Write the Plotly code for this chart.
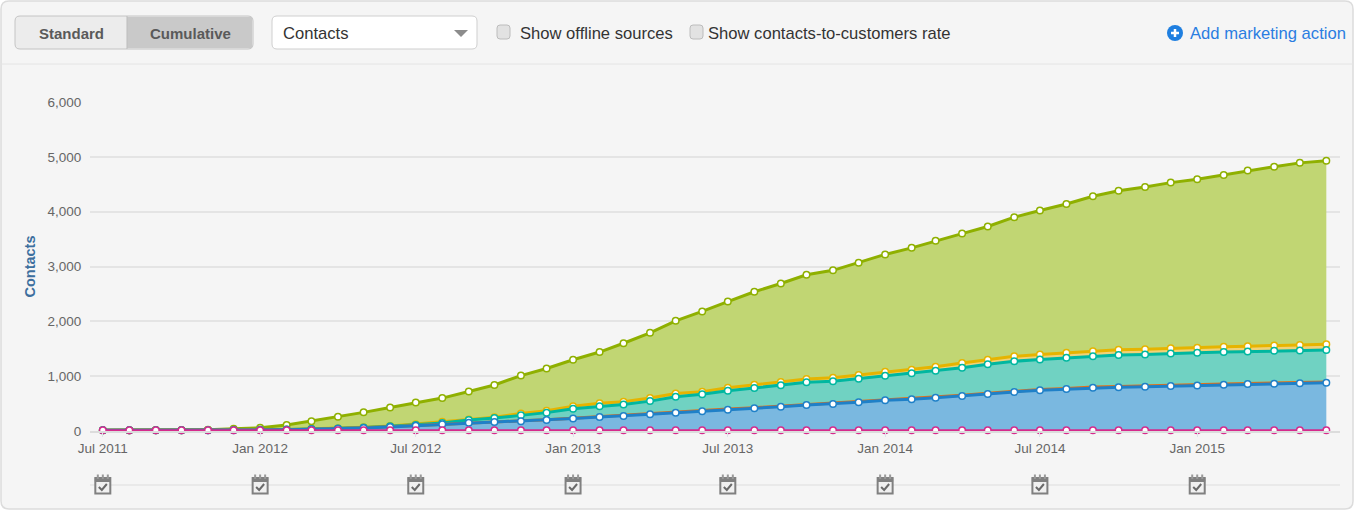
import pandas as pd
import plotly.graph_objects as go

WIDTH, HEIGHT = 1357, 511
LEFT, RIGHT, TOP, BOTTOM = 90, 1340, 102, 431

months = pd.date_range("2011-07-01", "2015-06-01", freq="MS").strftime("%Y-%m-%d").tolist()
action_dates = ["2011-07-01", "2012-01-01", "2012-07-01", "2013-01-01",
                "2013-07-01", "2014-01-01", "2014-07-01", "2015-01-01"]

# cumulative height of every band, bottom to top
pink = [15] * 48
blue = [12, 12, 12, 12, 13, 15, 18, 22, 30, 40, 55, 75,
        95, 125, 150, 165, 180, 200, 230, 255, 275, 305, 335, 359,
        389, 414, 443, 474, 493, 524, 560, 578, 608, 639, 675, 712,
        745, 765, 790, 800, 808, 820, 832, 845, 855, 862, 870, 880]
orange = [13, 13, 13, 13, 14, 16, 19, 24, 32, 42, 58, 78,
          100, 130, 155, 170, 186, 206, 236, 262, 283, 314, 345, 371,
          401, 426, 455, 486, 505, 536, 572, 590, 620, 651, 687, 724,
          757, 777, 802, 812, 820, 832, 844, 857, 867, 874, 882, 892]
teal = [14, 14, 14, 14, 15, 17, 21, 27, 36, 47, 64, 85,
        110, 145, 200, 235, 285, 335, 405, 450, 485, 545, 625, 669,
        735, 785, 834, 888, 907, 954, 1009, 1053, 1100, 1155, 1217, 1272,
        1305, 1335, 1365, 1385, 1395, 1415, 1425, 1440, 1450, 1462, 1470, 1475]
yellow = [15, 15, 15, 15, 16, 18, 22, 29, 39, 50, 68, 92,
          125, 170, 210, 250, 320, 370, 450, 505, 535, 600, 685, 717,
          790, 845, 894, 949, 973, 1022, 1082, 1119, 1173, 1241, 1301, 1363,
          1395, 1425, 1455, 1480, 1492, 1510, 1517, 1535, 1547, 1560, 1570, 1580]
green = [15, 15, 17, 18, 25, 40, 60, 110, 180, 260, 340, 430,
         520, 600, 720, 840, 1010, 1140, 1300, 1440, 1600, 1790, 2010, 2180,
         2360, 2540, 2690, 2850, 2930, 3070, 3220, 3340, 3470, 3600, 3730, 3900,
         4020, 4140, 4280, 4380, 4450, 4530, 4590, 4670, 4750, 4820, 4890, 4930]

y_title = "Contacts"
controls = ["Standard", "Cumulative", "Contacts", "Show offline sources",
            "Show contacts-to-customers rate", "Add marketing action"]

GRID = "#e4e4e4"
PANEL = "#f5f5f5"


def px(x):
    return (x - LEFT) / (RIGHT - LEFT)


def py(y):
    return (BOTTOM - y) / (BOTTOM - TOP)


def box(x0, y0, x1, y1, fill=None, line=None, width=1, kind="rect", layer="above"):
    return dict(type=kind, xref="paper", yref="paper", x0=px(x0), x1=px(x1), y0=py(y0), y1=py(y1),
                fillcolor=fill, line=dict(color=line, width=width if line else 0), layer=layer)


def rounded(x0, y0, x1, y1, r, fill=None, line=None, width=1, layer="above"):
    # rounded rectangle, plotly has no corner radius on rect shapes
    pts = [(x0 + r, y0), (x1 - r, y0), (x1, y0 + r), (x1, y1 - r), (x1 - r, y1), (x0 + r, y1), (x0, y1 - r), (x0, y0 + r)]
    p = [(px(a), py(b)) for a, b in pts]
    path = (f"M{p[0][0]},{p[0][1]} L{p[1][0]},{p[1][1]} Q{px(x1)},{py(y0)} {p[2][0]},{p[2][1]} "
            f"L{p[3][0]},{p[3][1]} Q{px(x1)},{py(y1)} {p[4][0]},{p[4][1]} "
            f"L{p[5][0]},{p[5][1]} Q{px(x0)},{py(y1)} {p[6][0]},{p[6][1]} "
            f"L{p[7][0]},{p[7][1]} Q{px(x0)},{py(y0)} {p[0][0]},{p[0][1]} Z")
    return dict(type="path", xref="paper", yref="paper", path=path, fillcolor=fill,
                line=dict(color=line, width=width if line else 0), layer=layer)


def label(x, y, text, size=16.6, color="#333333", anchor="left", bold=False):
    return dict(xref="paper", yref="paper", x=px(x), y=py(y), text=f"<b>{text}</b>" if bold else text,
                showarrow=False, xanchor=anchor, yanchor="middle",
                font=dict(size=size, color=color), borderpad=0, borderwidth=0)


def icon(date):
    # calendar glyph, sized in pixels and anchored to the date on the x axis
    shapes = []
    base = dict(xref="x", yref="paper", xsizemode="pixel", ysizemode="pixel", xanchor=date, yanchor=py(485))
    shapes.append(dict(type="rect", x0=-7.5, x1=7.5, y0=-8.5, y1=7, fillcolor="#f0f0f0",
                       line=dict(color="#808080", width=2), **base))
    shapes.append(dict(type="rect", x0=-7.5, x1=7.5, y0=3.5, y1=7, fillcolor="#808080",
                       line=dict(color="#808080", width=1), **base))
    for dx in (-5, 0, 5):
        shapes.append(dict(type="line", x0=dx, x1=dx, y0=6, y1=10.5,
                           line=dict(color="#999999", width=2), **base))
    shapes.append(dict(type="path", path="M-4,-2 L-1,-5 L4,1", fillcolor="rgba(0,0,0,0)",
                       line=dict(color="#6a6a6a", width=2), **base))
    return shapes


fig = go.Figure()

# filled bands first, lines go over them afterwards
bands = [(blue, "tozeroy", "rgba(122,184,224,1)"),
         (orange, "tonexty", "rgba(214,150,90,1)"),
         (teal, "tonexty", "rgba(112,210,194,1)"),
         (yellow, "tonexty", "rgba(240,210,120,1)"),
         (green, "tonexty", "rgba(193,214,115,1)")]
for values, fill, color in bands:
    fig.add_trace(go.Scatter(x=months, y=values, mode="lines", fill=fill, fillcolor=color,
                             line=dict(width=0), hoverinfo="skip", showlegend=False))

lines = [(green, "#8fb000", 3, True), (yellow, "#e6b400", 3, True), (teal, "#00b7a0", 3, True),
         (orange, "#e0701a", 3, False), (blue, "#1f80c8", 3, True), (pink, "#d62a8c", 2, True)]
for values, color, width, dots in lines:
    fig.add_trace(go.Scatter(x=months, y=values, mode="lines+markers" if dots else "lines",
                             line=dict(color=color, width=width),
                             marker=dict(size=6.5, color="white", line=dict(color=color, width=1.5)),
                             cliponaxis=False, showlegend=False))

shapes = [
    rounded(1, 1, 1353, 509, 8, fill=PANEL, line="#dcdcdc", width=1.5, layer="below"),
    box(1, 64, 1353, 64, line="#e4e4e4", width=1, kind="line", layer="below"),
    box(LEFT, 485, RIGHT, 485, line=GRID, width=1.5, kind="line", layer="below"),
    rounded(15, 16, 253, 49, 5, fill="#ececec", line="#c4c4c4"),
    box(127, 17, 252, 48, fill="#c9c9c9"),
    box(127, 16, 127, 49, line="#bdbdbd", kind="line"),
    rounded(272, 16, 477, 49, 5, fill="#ffffff", line="#cfcfcf"),
    dict(type="path", xref="paper", yref="paper", fillcolor="#8c8c8c", line=dict(width=0),
         path=f"M{px(454)},{py(30)} L{px(468)},{py(30)} L{px(461)},{py(37)} Z"),
    rounded(497, 25, 510, 39, 3, fill="#e2e2e2", line="#bcbcbc"),
    rounded(690, 25, 703, 39, 3, fill="#e2e2e2", line="#bcbcbc"),
    box(1167, 25, 1183, 41, fill="#1f7fe0", kind="circle"),
    box(1171, 33, 1179, 33, line="#ffffff", width=2.5, kind="line"),
    box(1175, 29, 1175, 37, line="#ffffff", width=2.5, kind="line"),
]
for d in action_dates:
    shapes += icon(d)

annotations = [
    label(71, 33, controls[0], size=15, color="#5a5a5a", anchor="center", bold=True),
    label(190, 33, controls[1], size=15, color="#5a5a5a", anchor="center", bold=True),
    label(283, 33, controls[2]),
    label(520, 33, controls[3]),
    label(708, 33, controls[4]),
    label(1190, 33, controls[5], color="#2a7de1"),
]

fig.update_layout(
    width=WIDTH,
    height=HEIGHT,
    margin=dict(l=LEFT, r=WIDTH - RIGHT, t=TOP, b=HEIGHT - BOTTOM, pad=0),
    paper_bgcolor="white",
    plot_bgcolor="rgba(0,0,0,0)",
    font=dict(family="Liberation Sans, Arial, sans-serif", color="#666666", size=13.5),
    shapes=shapes,
    annotations=annotations,
    showlegend=False,
)
fig.update_xaxes(
    type="date",
    range=["2011-06-16", "2015-06-17"],
    tick0="2011-07-01",
    dtick="M6",
    tickformat="%b %Y",
    ticks="outside",
    ticklen=4,
    tickcolor="#dfe3ea",
    showgrid=False,
    zeroline=False,
    showline=True,
    linecolor="#dcdcdc",
    linewidth=1.5,
    tickfont=dict(size=13.5, color="#666666"),
)
fig.update_yaxes(
    range=[0, 6000],
    tick0=0,
    dtick=1000,
    tickformat=",d",
    ticks="outside",
    ticklen=5,
    tickcolor="rgba(0,0,0,0)",
    gridcolor=GRID,
    gridwidth=1.5,
    zeroline=False,
    title=dict(text=f"<b>{y_title}</b>", font=dict(size=14.5, color="#3d6f9e"), standoff=8),
    tickfont=dict(size=13.5, color="#666666"),
)

fig.write_html("out.html", config=dict(displayModeBar=False),
               post_script="document.body.style.margin='0';document.documentElement.style.overflow='hidden';")
